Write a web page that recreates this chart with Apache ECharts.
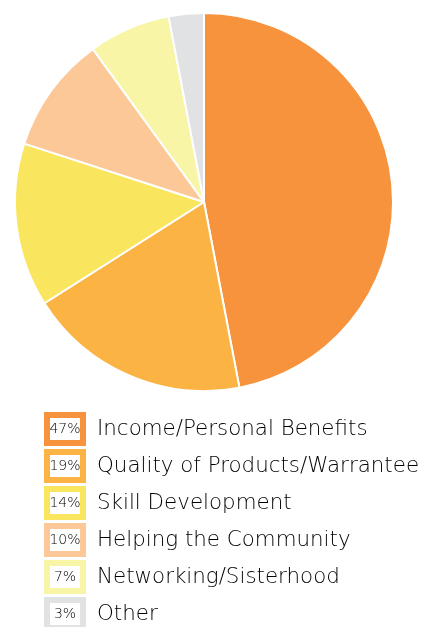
<!DOCTYPE html>
<html>
<head>
<meta charset="utf-8">
<script src="https://cdn.jsdelivr.net/npm/echarts@6/dist/echarts.min.js"></script>
<style>
html,body{margin:0;padding:0;background:#fff;}
#main{width:432px;height:627px;}
</style>
</head>
<body>
<div id="main"></div>
<script>
var names = ['Income/Personal Benefits', 'Quality of Products/Warrantee', 'Skill Development', 'Helping the Community', 'Networking/Sisterhood', 'Other'];
var values = [47, 19, 14, 10, 7, 3];
var colors = ['#F7923D', '#FBB344', '#F9E65E', '#FCC897', '#F9F5A6', '#E1E2E4'];

var myChart = echarts.init(document.getElementById('main'));

var rich = {
    t: {
        fontSize: 21.4,
        color: '#000',
        fontFamily: 'DejaVu Sans',
        fontWeight: 200,
        padding: [0, 0, 0, 17]
    }
};
colors.forEach(function (c, i) {
    rich['p' + i] = {
        width: 30,
        height: 22,
        align: 'center',
        fontSize: 14,
        color: '#000',
        fontFamily: 'DejaVu Sans',
        fontWeight: 200,
        backgroundColor: '#fff',
        borderColor: c,
        borderWidth: 6
    };
});

var pieData = names.map(function (n, i) {
    return { name: n, value: values[i], itemStyle: { color: colors[i] } };
});

option = {
    animation: false,
    legend: {
        orient: 'vertical',
        left: 44,
        top: 412,
        height: 230,
        padding: 0,
        itemWidth: 0,
        itemHeight: 0,
        itemGap: 3,
        icon: 'rect',
        selectedMode: false,
        data: names,
        formatter: function (name) {
            var i = names.indexOf(name);
            return '{p' + i + '|' + values[i] + '%}{t|' + name + '}';
        },
        textStyle: { rich: rich }
    },
    series: [{
        type: 'pie',
        center: [204, 202],
        radius: 189,
        startAngle: 90,
        clockwise: true,
        label: { show: false },
        labelLine: { show: false },
        itemStyle: { borderColor: '#fff', borderWidth: 2 },
        emphasis: { disabled: true },
        data: pieData
    }]
};
myChart.setOption(option);
</script>
</body>
</html>
